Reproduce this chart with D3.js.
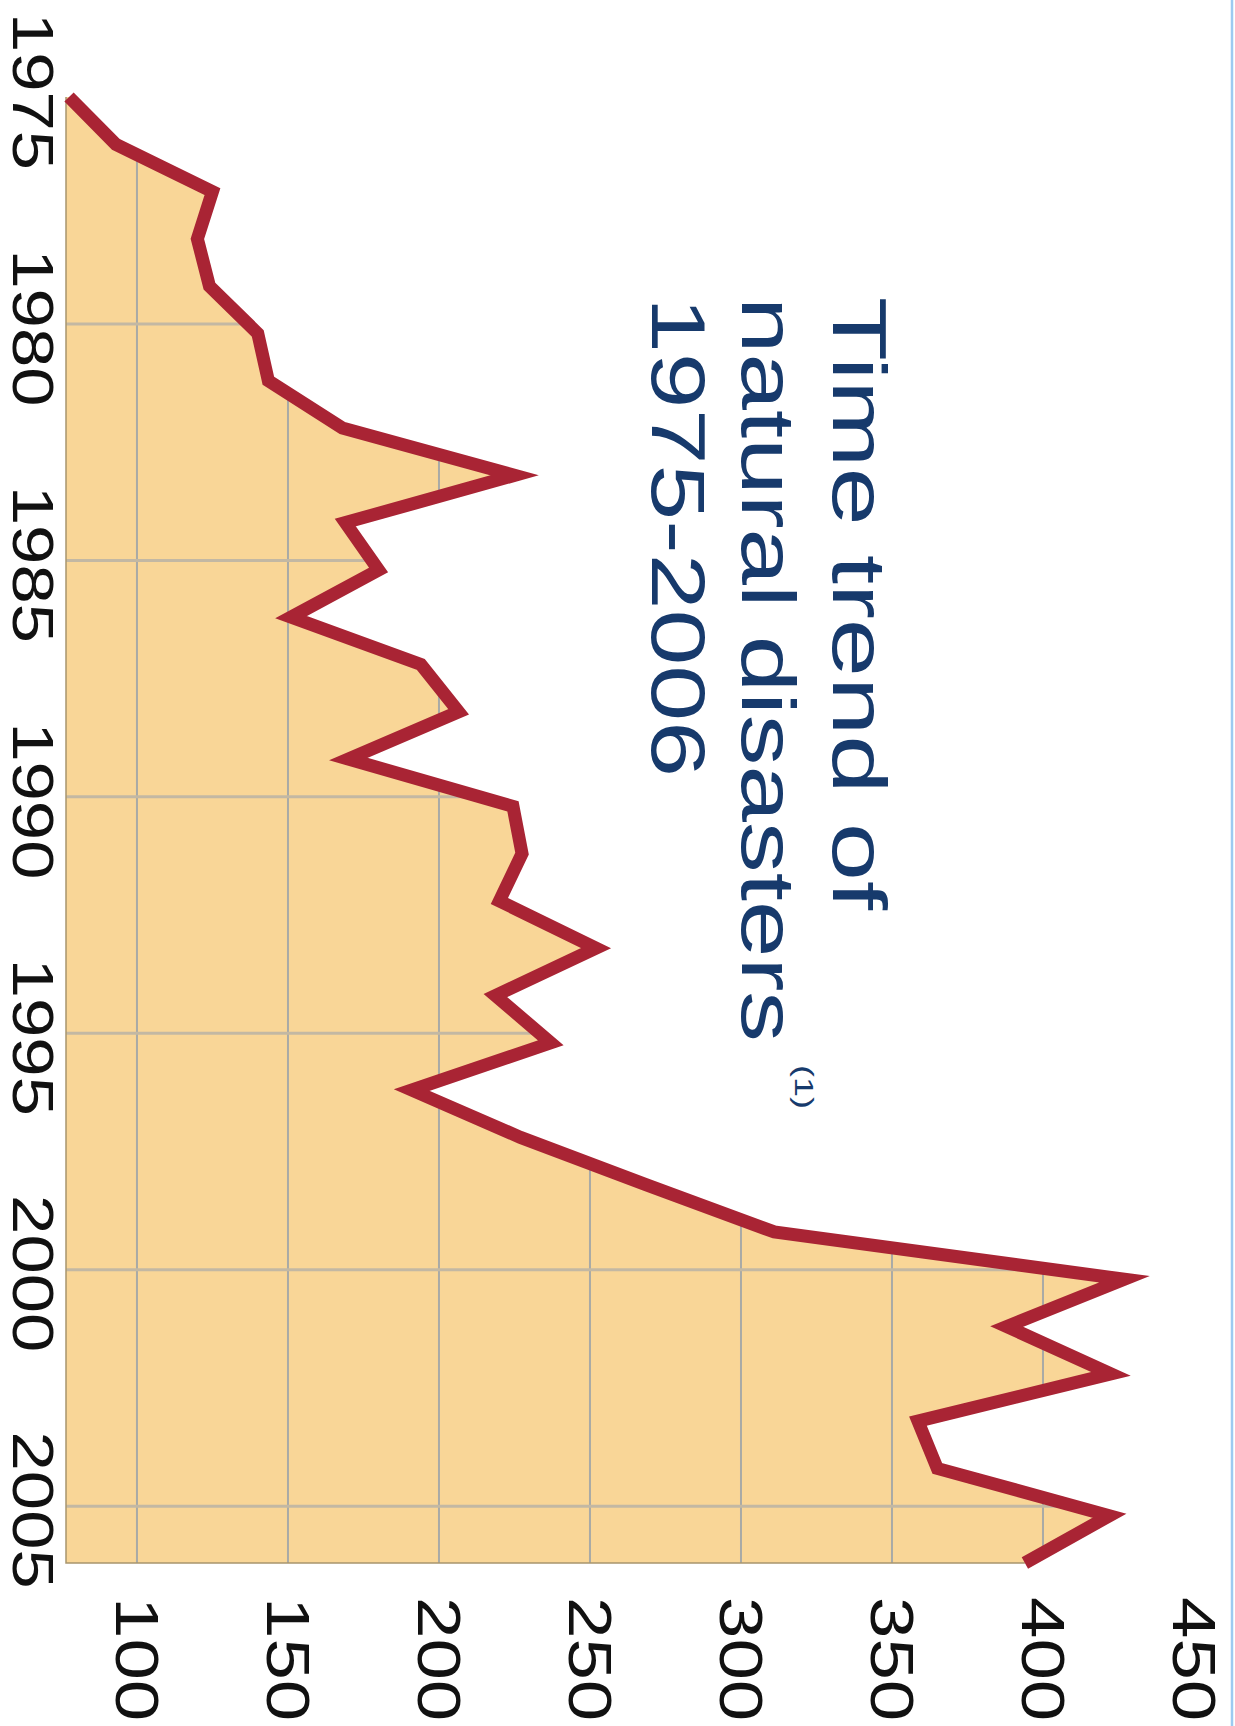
<!DOCTYPE html>
<html>
<head>
<meta charset="utf-8">
<script src="https://cdn.jsdelivr.net/npm/d3@7"></script>
<style>
  body { margin: 0; background: #fff; }
  text { font-family: "Liberation Sans", Arial, Helvetica, sans-serif; }
</style>
</head>
<body>
<svg id="chart"></svg>
<script>
var years = [1975, 1976, 1977, 1978, 1979, 1980, 1981, 1982, 1983, 1984, 1985,
             1986, 1987, 1988, 1989, 1990, 1991, 1992, 1993, 1994, 1995, 1996,
             1997, 1998, 1999, 2000, 2001, 2002, 2003, 2004, 2005, 2006];
var disasters = [77.5, 93, 125, 120, 124, 140, 143.5, 168, 225, 169, 180,
                 151, 194, 206.5, 170, 224.5, 227.5, 220, 252, 218.7, 237, 191,
                 227, 268.5, 311, 427, 388, 422.5, 358.6, 365, 422, 394];
var yearTicks = [1975, 1980, 1985, 1990, 1995, 2000, 2005];
var valueTicks = [100, 150, 200, 250, 300, 350, 400, 450];
var titleLines = ["Time trend of", "natural disasters", "1975-2006"];
var titleNote = "(1)";

var svgWidth = 1235, svgHeight = 1726;
var data = years.map(function (yr, i) { return { year: yr, value: disasters[i] }; });

var svg = d3.select('#chart')
  .attr('width', svgWidth)
  .attr('height', svgHeight);

// the whole chart is turned a quarter turn: values run left->right, years top->bottom
var x = d3.scaleLinear().domain([76.5, 450]).range([66, 1194]);
var y = d3.scaleLinear().domain([1975, 2006]).range([97, 1563]);
var gridShift = -9.5; // grid lines / year labels sit a little above the data points

var area = d3.area()
  .y(function (d) { return y(d.year); })
  .x0(x(76.5))
  .x1(function (d) { return x(d.value); });

var line = d3.line()
  .x(function (d) { return x(d.value); })
  .y(function (d) { return y(d.year); });

svg.append('clipPath').attr('id', 'fillclip')
  .append('path').attr('d', area(data));

svg.append('path')
  .attr('d', area(data))
  .attr('fill', '#f9d697');

var grid = svg.append('g').attr('clip-path', 'url(#fillclip)');

grid.selectAll('line.vgrid')
  .data(valueTicks.filter(function (v) { return v <= 400; }))
  .enter().append('line')
  .attr('class', 'vgrid')
  .attr('x1', function (d) { return x(d); })
  .attr('x2', function (d) { return x(d); })
  .attr('y1', y(1975))
  .attr('y2', y(2006))
  .attr('stroke', '#a9aaa6')
  .attr('stroke-width', 2);

grid.selectAll('line.hgrid')
  .data(yearTicks.slice(1))
  .enter().append('line')
  .attr('class', 'hgrid')
  .attr('x1', x(76.5))
  .attr('x2', x(450))
  .attr('y1', function (d) { return y(d) + gridShift; })
  .attr('y2', function (d) { return y(d) + gridShift; })
  .attr('stroke', '#c3b8a3')
  .attr('stroke-width', 3);

// thin outline along the left and bottom of the filled area
var last = data[data.length - 1];
svg.append('path')
  .attr('d', 'M' + x(76.5) + ',' + y(1975) + 'V' + y(2006) + 'H' + x(last.value))
  .attr('fill', 'none')
  .attr('stroke', '#a8956e')
  .attr('stroke-width', 1.5);

svg.append('path')
  .attr('d', line(data))
  .attr('fill', 'none')
  .attr('stroke', '#a92434')
  .attr('stroke-width', 13)
  .attr('stroke-linejoin', 'miter')
  .attr('stroke-miterlimit', 20);

// year labels (left side)
svg.selectAll('g.year')
  .data(yearTicks)
  .enter().append('g')
  .attr('class', 'year')
  .attr('transform', function (d) {
    return 'translate(13,' + (y(d) + gridShift + 4) + ') rotate(90) scale(1.22,1)';
  })
  .append('text')
  .attr('text-anchor', 'middle')
  .attr('font-size', 58)
  .attr('fill', '#111')
  .text(function (d) { return d; });

// value labels (bottom)
svg.selectAll('g.value')
  .data(valueTicks)
  .enter().append('g')
  .attr('class', 'value')
  .attr('transform', function (d) {
    return 'translate(' + x(d) + ',1597) rotate(90) scale(1.22,1)';
  })
  .append('text')
  .attr('dy', '0.35em')
  .attr('font-size', 61)
  .attr('fill', '#111')
  .text(function (d) { return d; });

// title
var titleBase = [833, 742, 652];
var titleLen = [613, 745, 480];
titleLines.forEach(function (t, i) {
  svg.append('text')
    .attr('transform', 'translate(' + titleBase[i] + ',297) rotate(90)')
    .attr('font-size', 76)
    .attr('fill', '#173a6c')
    .attr('textLength', titleLen[i])
    .attr('lengthAdjust', 'spacingAndGlyphs')
    .text(t);
});
svg.append('text')
  .attr('transform', 'translate(795,1065) rotate(90)')
  .attr('font-size', 26)
  .attr('fill', '#173a6c')
  .attr('textLength', 44)
  .attr('lengthAdjust', 'spacingAndGlyphs')
  .text(titleNote);

// light blue frame edge on the right
svg.append('line')
  .attr('x1', 1232).attr('x2', 1232)
  .attr('y1', 0).attr('y2', svgHeight)
  .attr('stroke', '#9ccaf0')
  .attr('stroke-width', 2.5);
</script>
</body>
</html>
